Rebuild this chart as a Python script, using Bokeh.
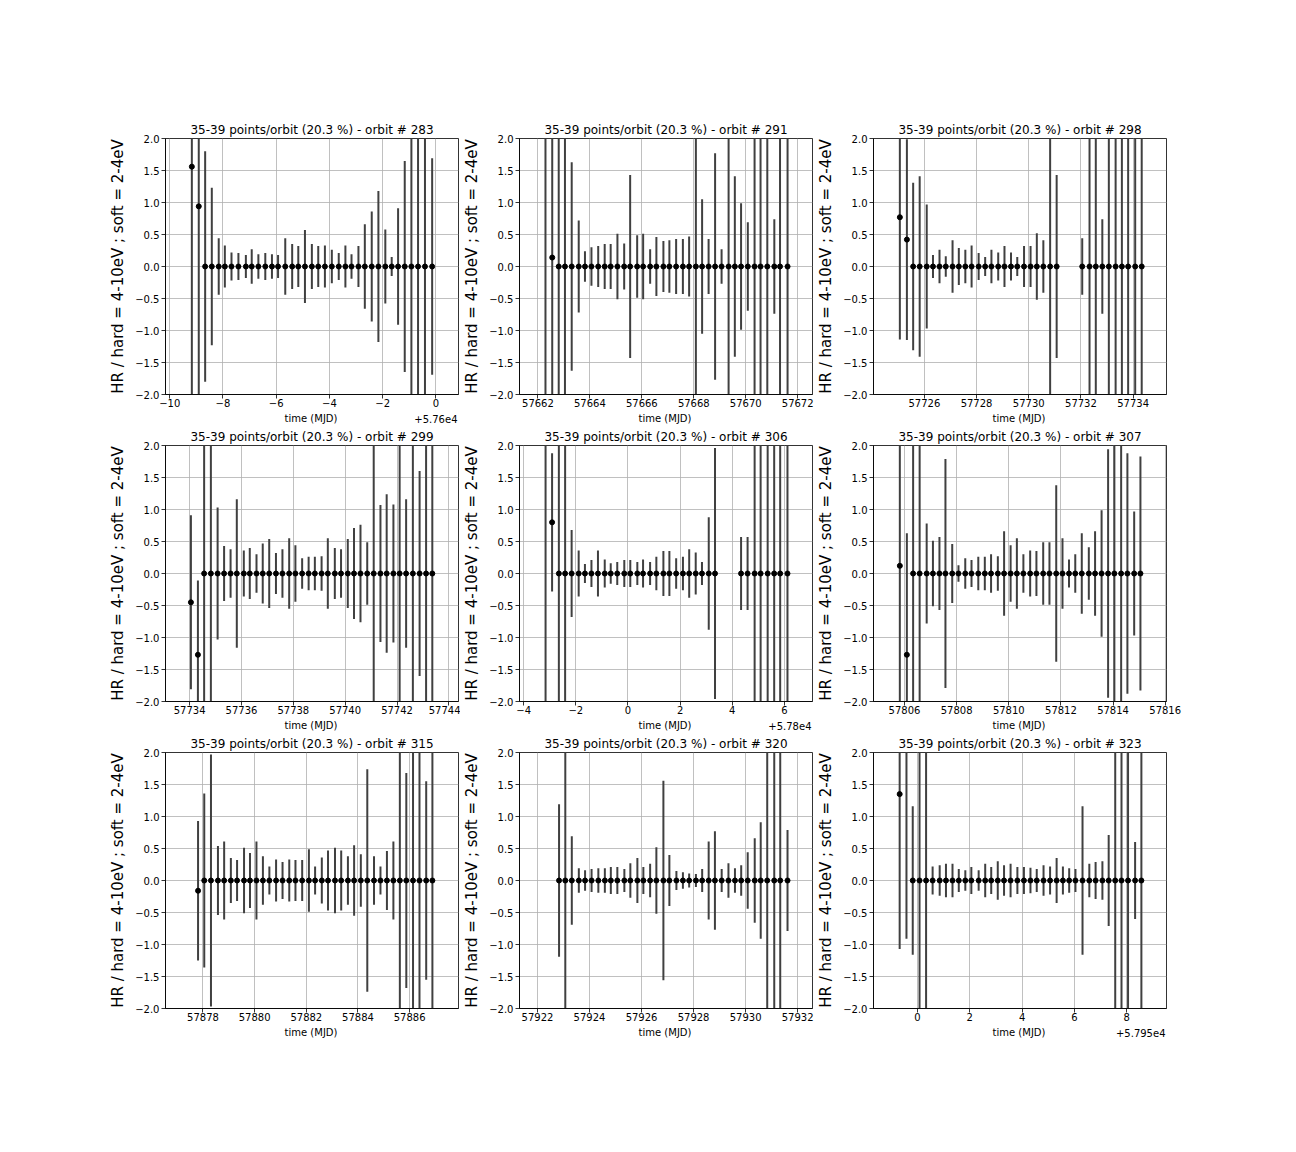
from bokeh.plotting import figure
from bokeh.layouts import row, column, Spacer
from bokeh.models import FixedTicker, Range1d, ColumnDataSource
from bokeh.core.properties import value
from bokeh.embed import file_html
from bokeh.resources import INLINE

FONT = "DejaVu Sans"
BIG = 4.0  # error bars that run off the +/-2 window

# ---------------- data ----------------
orbits = [283, 291, 298, 299, 306, 307, 315, 320, 323]

t_283 = [57590.83, 57591.09, 57591.33, 57591.58, 57591.84, 57592.07, 57592.32, 57592.58,
         57592.86, 57593.08, 57593.33, 57593.59, 57593.84, 57594.07, 57594.34, 57594.60,
         57594.83, 57595.08, 57595.34, 57595.58, 57595.83, 57596.09, 57596.35, 57596.60,
         57596.83, 57597.09, 57597.33, 57597.59, 57597.84, 57598.10, 57598.34, 57598.58,
         57598.83, 57599.08, 57599.33, 57599.59, 57599.86]
hr_283 = [1.56, 0.94] + [0.0] * 35
err_283 = [BIG, BIG, 1.80, 1.23, 0.44, 0.33, 0.22, 0.21, 0.18, 0.27, 0.19, 0.21, 0.19, 0.18,
           0.44, 0.35, 0.32, 0.57, 0.35, 0.32, 0.33, 0.26, 0.21, 0.33, 0.19, 0.32, 0.66, 0.86,
           1.18, 0.58, 0.15, 0.91, 1.65, BIG, BIG, BIG, 1.69]

t_291 = [57662.29, 57662.55, 57662.80, 57663.04, 57663.30, 57663.57, 57663.81, 57664.06,
         57664.32, 57664.57, 57664.80, 57665.06, 57665.32, 57665.55, 57665.82, 57666.05,
         57666.32, 57666.56, 57666.83, 57667.06, 57667.32, 57667.58, 57667.82, 57668.08,
         57668.32, 57668.57, 57668.82, 57669.07, 57669.34, 57669.58, 57669.82, 57670.08,
         57670.34, 57670.57, 57670.83, 57671.10, 57671.32, 57671.61]
hr_291 = [2.6, 0.14] + [0.0] * 36
err_291 = [5.0, BIG, BIG, BIG, 1.63, 0.72, 0.24, 0.30, 0.32, 0.35, 0.35, 0.51, 0.36, 1.43,
           0.49, 0.51, 0.27, 0.46, 0.40, 0.41, 0.43, 0.43, 0.47, BIG, 1.05, 0.43, 1.77, 0.27,
           BIG, 1.41, 0.99, 0.69, BIG, BIG, BIG, 0.74, BIG, BIG]

t_298 = [57725.06, 57725.33, 57725.57, 57725.82, 57726.09, 57726.33, 57726.58, 57726.82,
         57727.08, 57727.32, 57727.57, 57727.81, 57728.08, 57728.33, 57728.57, 57728.83,
         57729.07, 57729.32, 57729.56, 57729.82, 57730.07, 57730.31, 57730.56, 57730.82,
         57731.07, 57732.05, 57732.33, 57732.57, 57732.82, 57733.07, 57733.33, 57733.57,
         57733.81, 57734.08, 57734.33]
hr_298 = [0.77, 0.42] + [0.0] * 33
err_298 = [1.91, 1.57, 1.31, 1.41, 0.97, 0.18, 0.26, 0.16, 0.41, 0.29, 0.26, 0.33, 0.21, 0.15,
           0.26, 0.22, 0.32, 0.22, 0.15, 0.32, 0.32, 0.52, 0.41, BIG, 1.43, 0.44, BIG, BIG,
           0.74, BIG, BIG, BIG, BIG, BIG, BIG]

t_299 = [57734.05, 57734.32, 57734.56, 57734.82, 57735.08, 57735.33, 57735.58, 57735.82,
         57736.09, 57736.32, 57736.58, 57736.82, 57737.07, 57737.33, 57737.58, 57737.84,
         57738.08, 57738.34, 57738.59, 57738.83, 57739.09, 57739.33, 57739.60, 57739.84,
         57740.10, 57740.34, 57740.59, 57740.85, 57741.10, 57741.36, 57741.60, 57741.86,
         57742.10, 57742.35, 57742.61, 57742.87, 57743.12, 57743.36]
hr_299 = [-0.45, -1.27] + [0.0] * 36
err_299 = [1.36, 1.16, BIG, BIG, 1.03, 0.43, 0.38, 1.16, 0.36, 0.40, 0.30, 0.47, 0.54, 0.32,
           0.38, 0.55, 0.44, 0.24, 0.26, 0.26, 0.27, 0.55, 0.40, 0.38, 0.54, 0.71, 0.76, 0.49,
           BIG, 1.07, 1.24, 1.08, BIG, 1.16, BIG, 1.60, BIG, BIG]

t_306 = [57796.84, 57797.09, 57797.35, 57797.59, 57797.84, 57798.11, 57798.35, 57798.60,
         57798.85, 57799.11, 57799.34, 57799.59, 57799.86, 57800.09, 57800.36, 57800.58,
         57800.85, 57801.09, 57801.36, 57801.59, 57801.85, 57802.11, 57802.35, 57802.60,
         57802.84, 57803.10, 57803.34, 57804.34, 57804.59, 57804.86, 57805.09, 57805.36,
         57805.61, 57805.84, 57806.12]
hr_306 = [2.6, 0.80] + [0.0] * 33
err_306 = [5.0, 1.08, BIG, BIG, 0.68, 0.36, 0.15, 0.21, 0.36, 0.22, 0.16, 0.18, 0.21, 0.21,
           0.18, 0.22, 0.18, 0.26, 0.35, 0.35, 0.24, 0.26, 0.38, 0.33, 0.18, 0.88, 1.96, 0.57,
           0.57, BIG, BIG, BIG, BIG, BIG, BIG]

t_307 = [57805.82, 57806.09, 57806.33, 57806.58, 57806.85, 57807.09, 57807.34, 57807.57,
         57807.83, 57808.07, 57808.33, 57808.57, 57808.83, 57809.08, 57809.32, 57809.58,
         57809.82, 57810.07, 57810.31, 57810.56, 57810.82, 57811.06, 57811.32, 57811.56,
         57811.82, 57812.06, 57812.31, 57812.55, 57812.80, 57813.07, 57813.31, 57813.56,
         57813.81, 57814.05, 57814.31, 57814.55, 57814.81, 57815.05]
hr_307 = [0.12, -1.27] + [0.0] * 36
err_307 = [BIG, 1.90, BIG, BIG, 0.78, 0.51, 0.57, 1.79, 0.46, 0.13, 0.24, 0.21, 0.26, 0.26,
           0.30, 0.27, 0.66, 0.44, 0.55, 0.30, 0.36, 0.35, 0.49, 0.49, 1.38, 0.55, 0.22, 0.30,
           0.63, 0.41, 0.66, 0.99, 1.94, BIG, BIG, 1.88, 0.97, 1.83]

t_315 = [57877.81, 57878.05, 57878.31, 57878.58, 57878.82, 57879.08, 57879.32, 57879.59,
         57879.82, 57880.07, 57880.32, 57880.57, 57880.83, 57881.08, 57881.34, 57881.58,
         57881.84, 57882.10, 57882.34, 57882.60, 57882.84, 57883.11, 57883.35, 57883.61,
         57883.85, 57884.11, 57884.36, 57884.62, 57884.87, 57885.12, 57885.37, 57885.62,
         57885.87, 57886.13, 57886.38, 57886.64, 57886.88]
hr_315 = [-0.16] + [0.0] * 36
err_315 = [1.09, 1.36, 1.97, 0.54, 0.61, 0.35, 0.32, 0.51, 0.43, 0.61, 0.38, 0.22, 0.33, 0.29,
           0.33, 0.32, 0.32, 0.49, 0.22, 0.36, 0.47, 0.51, 0.47, 0.38, 0.55, 0.41, 1.74, 0.38,
           0.22, 0.46, 0.61, BIG, 1.68, BIG, BIG, 1.55, BIG]

t_320 = [57922.83, 57923.07, 57923.32, 57923.59, 57923.83, 57924.08, 57924.34, 57924.59,
         57924.82, 57925.07, 57925.34, 57925.57, 57925.84, 57926.07, 57926.33, 57926.57,
         57926.84, 57927.07, 57927.34, 57927.59, 57927.83, 57928.09, 57928.33, 57928.58,
         57928.82, 57929.08, 57929.34, 57929.59, 57929.83, 57930.08, 57930.35, 57930.58,
         57930.83, 57931.10, 57931.33, 57931.61]
hr_320 = [0.0] * 36
err_320 = [1.19, BIG, 0.69, 0.19, 0.16, 0.18, 0.19, 0.19, 0.21, 0.21, 0.18, 0.27, 0.35, 0.21,
           0.26, 0.52, 1.56, 0.40, 0.15, 0.13, 0.11, 0.10, 0.18, 0.61, 0.77, 0.18, 0.27, 0.19,
           0.24, 0.44, 0.66, 0.91, BIG, BIG, BIG, 0.79]

t_323 = [57949.32, 57949.58, 57949.82, 57950.08, 57950.33, 57950.58, 57950.85, 57951.09,
         57951.34, 57951.58, 57951.83, 57952.06, 57952.34, 57952.59, 57952.82, 57953.07,
         57953.31, 57953.56, 57953.82, 57954.07, 57954.32, 57954.56, 57954.82, 57955.07,
         57955.32, 57955.56, 57955.80, 57956.04, 57956.31, 57956.57, 57956.81, 57957.07,
         57957.31, 57957.56, 57957.80, 57958.05, 57958.32, 57958.56]
hr_323 = [1.35, 2.4] + [0.0] * 36
err_323 = [2.42, 3.31, 1.16, BIG, BIG, 0.22, 0.24, 0.26, 0.26, 0.18, 0.16, 0.21, 0.16, 0.26,
           0.21, 0.30, 0.24, 0.26, 0.21, 0.21, 0.20, 0.18, 0.24, 0.22, 0.35, 0.22, 0.19, 0.18,
           1.16, 0.26, 0.29, 0.30, 0.71, BIG, BIG, BIG, 0.60, BIG]

x_ranges = {
    283: (57589.84, 57600.85), 291: (57661.29, 57672.57), 298: (57724.05, 57735.28),
    299: (57733.07, 57744.37), 306: (57795.84, 57807.08), 307: (57804.81, 57816.05),
    315: (57876.55, 57887.89), 320: (57921.31, 57932.57), 323: (57948.32, 57959.52),
}

x_ticks = {
    283: [57590, 57592, 57594, 57596, 57598, 57600],
    291: [57662, 57664, 57666, 57668, 57670, 57672],
    298: [57726, 57728, 57730, 57732, 57734],
    299: [57734, 57736, 57738, 57740, 57742, 57744],
    306: [57796, 57798, 57800, 57802, 57804, 57806],
    307: [57806, 57808, 57810, 57812, 57814, 57816],
    315: [57878, 57880, 57882, 57884, 57886],
    320: [57922, 57924, 57926, 57928, 57930, 57932],
    323: [57950, 57952, 57954, 57956, 57958],
}
# matplotlib-style offset notation used on some axes
x_offsets = {283: (57600, "+5.76e4"), 306: (57800, "+5.78e4"), 323: (57950, "+5.795e4")}

y_ticks = [-2.0, -1.5, -1.0, -0.5, 0.0, 0.5, 1.0, 1.5, 2.0]

x_label = "time (MJD)"
y_label = "HR / hard = 4-10eV ; soft = 2-4eV"

series = {
    283: (t_283, hr_283, err_283), 291: (t_291, hr_291, err_291), 298: (t_298, hr_298, err_298),
    299: (t_299, hr_299, err_299), 306: (t_306, hr_306, err_306), 307: (t_307, hr_307, err_307),
    315: (t_315, hr_315, err_315), 320: (t_320, hr_320, err_320), 323: (t_323, hr_323, err_323),
}

# ---------------- layout constants ----------------
LEFT, FRAME_W = 57, 295
TOP, FRAME_H, BOTTOM = 20, 256, 17
STRIP_H = 14


def panel_width(last_col):
    return LEFT + FRAME_W + (22 if last_col else 2)


def make_panel(orbit, last_col):
    t, hr, err = series[orbit]
    lo = [h - e for h, e in zip(hr, err)]
    hi = [h + e for h, e in zip(hr, err)]
    src = ColumnDataSource(dict(t=t, hr=hr, lo=lo, hi=hi))
    xr = x_ranges[orbit]
    p = figure(width=panel_width(last_col), height=TOP + FRAME_H + BOTTOM,
               x_range=Range1d(*xr), y_range=Range1d(-2, 2),
               output_backend="svg", toolbar_location=None,
               min_border_left=LEFT, min_border_right=22 if last_col else 2,
               min_border_top=TOP, min_border_bottom=BOTTOM)
    p.background_fill_color = "white"
    p.border_fill_color = "white"
    p.outline_line_color = "black"
    p.outline_line_width = 0.8
    p.outline_line_alpha = 1.0

    p.title.text = "35-39 points/orbit (20.3 %%) - orbit # %d" % orbit
    p.title.align = "center"
    p.title.text_font = FONT
    p.title.text_font_size = "12px"
    p.title.text_font_style = "normal"
    p.title.text_color = "black"
    p.title.standoff = 3

    ticks = x_ticks[orbit]
    p.xaxis.ticker = FixedTicker(ticks=ticks)
    if orbit in x_offsets:
        base, _ = x_offsets[orbit]
        p.xaxis.major_label_overrides = {tk: str(tk - base).replace("-", "\u2212") for tk in ticks}
    else:
        p.xaxis.major_label_overrides = {tk: str(tk) for tk in ticks}
    p.xaxis.major_label_standoff = 0

    p.yaxis.ticker = FixedTicker(ticks=y_ticks)
    p.yaxis.major_label_overrides = {v: ("%.1f" % v).replace("-", "\u2212") for v in y_ticks}
    p.yaxis.axis_label = y_label
    p.yaxis.axis_label_text_font_size = "15px"
    p.yaxis.axis_label_standoff = 5
    p.yaxis.major_label_standoff = 2

    for ax in (p.xaxis[0], p.yaxis[0]):
        ax.axis_label_text_font = FONT
        ax.axis_label_text_font_style = "normal"
        ax.axis_label_text_color = "black"
        ax.major_label_text_font = FONT
        ax.major_label_text_font_size = "10px"
        ax.major_label_text_color = "black"
        ax.major_tick_out = 4
        ax.major_tick_in = 0
        ax.major_tick_line_color = "black"
        ax.major_tick_line_width = 0.8
        ax.minor_tick_line_color = None
        ax.axis_line_color = "black"
        ax.axis_line_width = 0.8

    p.grid.grid_line_color = "#b0b0b0"
    p.grid.grid_line_width = 0.8

    p.segment(x0="t", y0="lo", x1="t", y1="hi", source=src,
              line_color="#404040", line_width=2)
    p.scatter(x="t", y="hr", source=src, size=5, color="black")
    return p


def make_strip(orbit, last_col):
    """Row under each panel holding the x-axis label and the axis offset text."""
    W = panel_width(last_col)
    s = figure(width=W, height=STRIP_H, x_range=Range1d(0, W), y_range=Range1d(0, STRIP_H),
               output_backend="svg", toolbar_location=None,
               x_axis_type=None, y_axis_type=None, min_border=0)
    s.outline_line_color = None
    s.background_fill_color = "white"
    s.border_fill_color = "white"
    s.text(x=[LEFT + FRAME_W / 2], y=[STRIP_H / 2], text=[x_label],
           text_align="center", text_baseline="middle",
           text_font=value(FONT), text_font_size="10px", text_color="black")
    if orbit in x_offsets:
        _, off_txt = x_offsets[orbit]
        s.text(x=[LEFT + FRAME_W - 1], y=[STRIP_H / 2], text=[off_txt],
               text_align="right", text_baseline="middle",
               text_font=value(FONT), text_font_size="10px", text_color="black")
    return s


blocks = [Spacer(width=10, height=118)]
for r in range(3):
    row_orbits = orbits[3 * r:3 * r + 3]
    blocks.append(row(Spacer(width=106, height=10),
                      *[make_panel(o, c == 2) for c, o in enumerate(row_orbits)]))
    blocks.append(row(Spacer(width=106, height=STRIP_H),
                      *[make_strip(o, c == 2) for c, o in enumerate(row_orbits)]))
layout = column(*blocks)

open("out.html", "w").write(file_html(layout, INLINE))
